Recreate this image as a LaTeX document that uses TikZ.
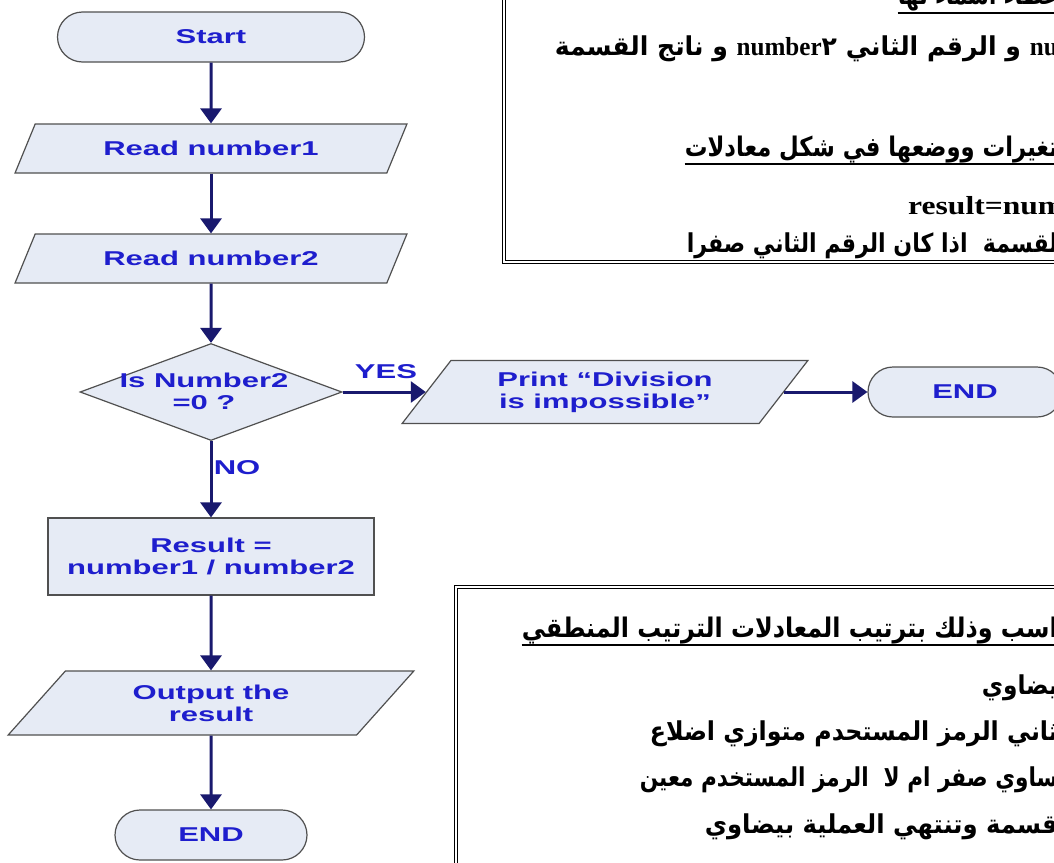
\documentclass[tikz,border=0pt]{standalone}
\usepackage{fontspec}
\usepackage{graphicx}
\usetikzlibrary{shapes.geometric,shapes.misc,arrows.meta}
\TeXXeTstate=1
\newfontfamily\arfont[Script=Arabic]{DejaVu Sans}
\newfontfamily\flowfont[FakeStretch=1.55]{Liberation Sans}
\newfontfamily\timesb{Liberation Serif}
\newcommand\fitto[2]{\resizebox{#1}{\height}{#2}}
\newcommand\lat[1]{{\timesb\bfseries\fontsize{26}{28}\selectfont #1}}
\definecolor{fillc}{RGB}{230,235,245}
\definecolor{bordc}{RGB}{80,80,80}
\definecolor{txtc}{RGB}{30,30,205}
\definecolor{arrc}{RGB}{25,25,110}
\begin{document}
\begin{tikzpicture}[x=1pt,y=-1pt,
  flowtxt/.style={font=\flowfont\bfseries\fontsize{20}{22}\selectfont, text=txtc},
  term/.style={rounded rectangle, draw=bordc, fill=fillc, line width=1.2pt, inner sep=0pt, minimum height=50pt, flowtxt},
  io/.style={trapezium, trapezium left angle=50, trapezium right angle=130, trapezium stretches=true, draw=bordc, fill=fillc, line width=1.2pt, inner sep=0pt, flowtxt, align=center},
  proc/.style={rectangle, draw=bordc, fill=fillc, line width=1.2pt, inner sep=0pt, flowtxt, align=center},
  dec/.style={diamond, draw=bordc, fill=fillc, line width=1.2pt, inner sep=0pt},
  lbl/.style={flowtxt, inner sep=0pt},
  arr/.style={draw=arrc, line width=3pt, -{Triangle[width=21pt,length=15pt]}},
  ar/.style={font=\arfont\bfseries\fontsize{26}{28}\selectfont, inner sep=0pt, anchor=base east},
  arh/.style={font=\arfont\bfseries\fontsize{27}{29}\selectfont, inner sep=0pt, anchor=base east},
  uline/.style={line width=1.8pt},
  frame/.style={draw=black, line width=1.2pt, double=white, double distance=1.4pt}
]
\useasboundingbox (0,0) rectangle (1054,862);
\clip (0,0) rectangle (1054,862);
\fill[white] (0,0) rectangle (1054,862);

% flowchart
\node[term, minimum width=307pt] (start) at (211,37) {Start};
\node[io, minimum width=392pt, minimum height=49pt] (r1) at (211,148.5) {Read number1};
\node[io, minimum width=392pt, minimum height=49pt] (r2) at (211,258.5) {Read number2};
\node[dec, minimum width=262pt, minimum height=97pt] (dec) at (211,392) {};
\node[lbl, align=center] (dect) at (204,391) {Is Number2\\=0 ?};
\node[io, minimum width=406pt, minimum height=63pt] (pr) at (605,392) {Print “Division\\is impossible”};
\node[term, minimum width=194pt] (end2) at (965,392) {END};
\node[proc, minimum width=326pt, minimum height=77pt] (res) at (211,556.5) {Result =\\number1 / number2};
\node[io, minimum width=406pt, minimum height=64pt] (out) at (211,703) {Output the\\result};
\node[term, minimum width=192pt] (end1) at (211,835) {END};
\node[lbl] (yes) at (386,372) {YES};
\node[lbl] (no) at (237,468) {NO};

\draw[arr] (start.south) -- (r1.north);
\draw[arr] (r1.south) -- (r2.north);
\draw[arr] (r2.south) -- (dec.north);
\draw[arr] (dec.east) -- (pr.left side);
\draw[arr] (pr.right side) -- (end2.west);
\draw[arr] (dec.south) -- (res.north);
\draw[arr] (res.south) -- (out.north);
\draw[arr] (out.south) -- (end1.north);

% text boxes
\draw[frame] (504,-10) rectangle (1075,262);
\draw[frame] (456,587) rectangle (1075,880);

\node[arh] (t1) at (1058,5) {\fitto{160pt}{\beginR عطاء اسماء لها\endR}};
\draw[uline] ([yshift=-8pt]t1.base west) -- ([yshift=-8pt]t1.base east);
\node[ar] (t2) at (1058,55) {\fitto{503pt}{\beginR\lat{nu} و الرقم الثاني \beginL\lat{number}٢\endL{} و ناتج القسمة\endR}};
\node[arh] (t3) at (1058,156) {\fitto{373pt}{\beginR تغيرات ووضعها في شكل معادلات\endR}};
\draw[uline] ([yshift=-8pt]t3.base west) -- ([yshift=-8pt]t3.base east);
\node[inner sep=0pt, anchor=base west] (t4) at (908,214) {\fitto{156pt}{\lat{result=num}}};
\node[ar] (t5) at (1058,252) {\fitto{371pt}{\beginR لقسمة\ \ اذا كان الرقم الثاني صفرا\endR}};

\node[arh] (b1) at (1058,637) {\fitto{536pt}{\beginR اسب وذلك بترتيب المعادلات الترتيب المنطقي\endR}};
\draw[uline] ([yshift=-8pt]b1.base west) -- ([yshift=-8pt]b1.base east);
\node[ar] (b2) at (1058,694) {\fitto{76pt}{\beginR يضاوي\endR}};
\node[ar] (b3) at (1058,740) {\fitto{408pt}{\beginR ثاني الرمز المستحدم متوازي اضلاع\endR}};
\node[ar] (b4) at (1058,786) {\fitto{418pt}{\beginR ساوي صفر ام لا\ \ الرمز المستخدم معين\endR}};
\node[ar] (b5) at (1058,833) {\fitto{353pt}{\beginR قسمة وتنتهي العملية بيضاوي\endR}};
\end{tikzpicture}
\end{document}
